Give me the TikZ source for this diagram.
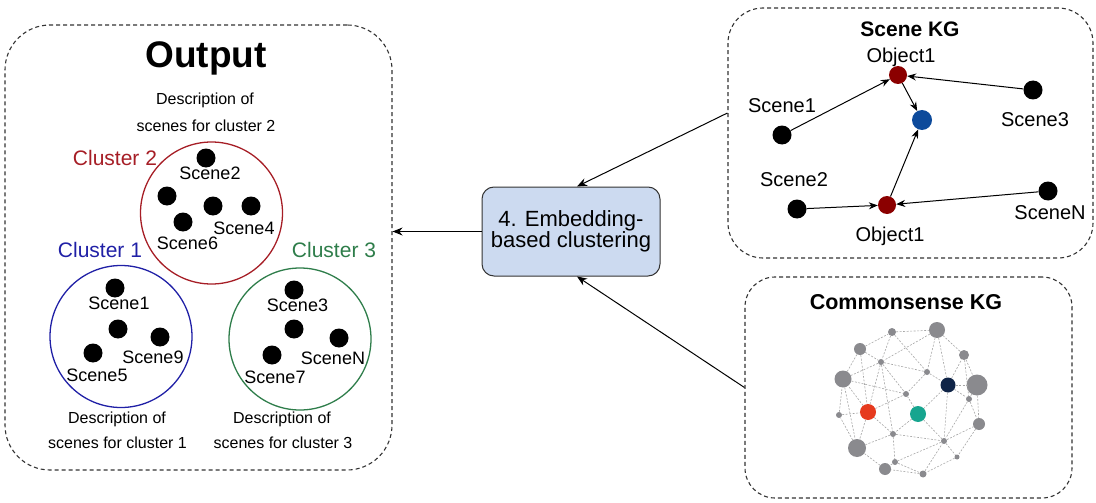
\documentclass[tikz,border=0pt]{standalone}
\usepackage{fontspec}
\setmainfont{Liberation Sans}
\usetikzlibrary{arrows.meta}
\definecolor{cred}{HTML}{A61E26}
\definecolor{cblue}{HTML}{2020A6}
\definecolor{cgreen}{HTML}{2E7D4A}
\definecolor{objred}{HTML}{8B0000}
\definecolor{objblue}{HTML}{0D4A9B}
\definecolor{boxfill}{HTML}{CCDAF0}
\definecolor{netgray}{HTML}{8A8A8E}
\definecolor{netnavy}{HTML}{0F2447}
\definecolor{netred}{HTML}{E63A1E}
\definecolor{netteal}{HTML}{17A58F}
\begin{document}
\begin{tikzpicture}[x=1pt,y=-1pt,
  dbox/.style={draw=black!80, dash pattern=on 4pt off 3pt, line width=1.1pt, inner sep=0, rectangle},
  dot/.style={circle, fill=black, inner sep=0, minimum size=19pt},
  lbl/.style={font=\fontsize{18}{20}\selectfont, inner sep=0},
  klbl/.style={font=\fontsize{20}{22}\selectfont, inner sep=0},
  desc/.style={font=\fontsize{16}{18}\selectfont, inner sep=0, align=center},
  clus/.style={font=\fontsize{21}{24}\selectfont, inner sep=0},
  ring/.style={circle, draw, line width=1.3pt, minimum size=142pt, inner sep=0},
  arr/.style={-{Stealth[length=10pt,width=8pt]}, line width=1pt},
  karr/.style={-{Stealth[length=9pt,width=7pt]}, line width=1pt},
  obj/.style={circle, fill=objred, inner sep=0, minimum size=18pt},
  nn/.style={circle, fill=netgray, inner sep=0},
  ne/.style={draw=gray!70, line width=0.6pt, dash pattern=on 2pt off 1.5pt}
]
\useasboundingbox (0,0) rectangle (1096,503);

% ---------- Output box ----------
\node[dbox, rounded corners=45pt, minimum width=387pt, minimum height=445pt] (out) at (198.5,247.5) {};
\node[font=\bfseries\fontsize{37}{40}\selectfont, inner sep=0] (outt) at (206,58) {Output};
\node[desc] (d2a) at (205,100) {Description of};
\node[desc] (d2b) at (206,126) {scenes for cluster 2};

% Cluster 2
\node[ring, draw=cred] (c2) at (211.5,213) {};
\node[clus, text=cred] (c2l) at (115,158) {Cluster 2};
\node[dot] (s2) at (206,158) {};
\node[lbl] (s2l) at (210,173) {Scene2};
\node[dot] (c2b) at (167,196) {};
\node[dot] (c2c) at (213,206) {};
\node[dot] (s4) at (251,206) {};
\node[dot] (s6) at (183,222) {};
\node[lbl] (s4l) at (244,228) {Scene4};
\node[lbl] (s6l) at (187.5,243) {Scene6};

% Cluster 1
\node[ring, draw=cblue] (c1) at (121,336.5) {};
\node[clus, text=cblue] (c1l) at (100,250) {Cluster 1};
\node[dot] (s1) at (115,288) {};
\node[lbl] (s1l) at (119,303) {Scene1};
\node[dot] (c1b) at (118,329) {};
\node[dot] (s9) at (160,337) {};
\node[dot] (s5) at (93,353) {};
\node[lbl] (s9l) at (153,357) {Scene9};
\node[lbl] (s5l) at (97,375) {Scene5};
\node[desc] (d1a) at (117,419) {Description of};
\node[desc] (d1b) at (117.5,443) {scenes for cluster 1};

% Cluster 3
\node[ring, draw=cgreen] (c3) at (300,339) {};
\node[clus, text=cgreen] (c3l) at (334,250) {Cluster 3};
\node[dot] (s3) at (294,290) {};
\node[lbl] (s3l) at (297.5,305) {Scene3};
\node[dot] (c3b) at (294,329) {};
\node[dot] (sN) at (339,338) {};
\node[dot] (s7) at (272,355) {};
\node[lbl] (sNl) at (333,358) {SceneN};
\node[lbl] (s7l) at (275,377) {Scene7};
\node[desc] (d3a) at (282,419) {Description of};
\node[desc] (d3b) at (283,443) {scenes for cluster 3};

% ---------- Embedding box ----------
\node[draw=black!80, fill=boxfill, line width=1pt, rounded corners=12pt, minimum width=178pt, minimum height=89pt, inner sep=0, align=center, font=\fontsize{22}{22}\selectfont] (emb) at (571,231.5) {4. Embedding-\\[-1pt]based clustering};

% ---------- Scene KG ----------
\node[dbox, rounded corners=35pt, minimum width=365pt, minimum height=250pt] (skg) at (910.5,133) {};
\node[font=\bfseries\fontsize{21}{24}\selectfont, inner sep=0] (skgt) at (910,29) {Scene KG};
\node[obj] (o1) at (898,75) {};
\node[klbl] (o1l) at (901,57) {Object1};
\node[circle, fill=objblue, inner sep=0, minimum size=20pt] (bl) at (922,120) {};
\node[dot] (k1) at (782,135) {};
\node[klbl] (k1l) at (782,106) {Scene1};
\node[dot] (k3) at (1033,90) {};
\node[klbl] (k3l) at (1035,120) {Scene3};
\node[dot] (k2) at (797,209) {};
\node[klbl] (k2l) at (794,180) {Scene2};
\node[dot] (kN) at (1048,191) {};
\node[klbl] (kNl) at (1050,213) {SceneN};
\node[obj] (o2) at (887,205) {};
\node[klbl] (o2l) at (890,236) {Object1};
\draw[karr] (k1) -- (o1);
\draw[karr] (k3) -- (o1);
\draw[karr] (o1) -- (bl);
\draw[karr] (o2) -- (bl);
\draw[karr] (k2) -- (o2);
\draw[karr] (kN) -- (o2);

% ---------- Commonsense KG ----------
\node[dbox, rounded corners=30pt, minimum width=327pt, minimum height=221pt] (ckg) at (908.5,387.5) {};
\node[font=\bfseries\fontsize{21.5}{24}\selectfont, inner sep=0] (ckgt) at (906,302) {Commonsense KG};

\node[nn, minimum size=8pt] (n1) at (892,332) {};
\node[nn, minimum size=16pt] (n2) at (937,330) {};
\node[nn, minimum size=12pt] (n3) at (860,349) {};
\node[nn, minimum size=10pt] (n4) at (964,355) {};
\node[nn, minimum size=6pt] (n5) at (881,362) {};
\node[nn, minimum size=17pt] (n6) at (843,379) {};
\node[nn, minimum size=6pt] (n7) at (927,372) {};
\node[circle, fill=netnavy, inner sep=0, minimum size=15pt] (n8) at (948,385) {};
\node[nn, minimum size=21pt] (n9) at (977,385) {};
\node[nn, minimum size=6pt] (n10) at (906,394) {};
\node[nn, minimum size=6pt] (n11) at (969,399) {};
\node[circle, fill=netred, inner sep=0, minimum size=16pt] (n12) at (868,412) {};
\node[circle, fill=netteal, inner sep=0, minimum size=16pt] (n13) at (918,414) {};
\node[nn, minimum size=6pt] (n14) at (839,415) {};
\node[nn, minimum size=12pt] (n15) at (979,424) {};
\node[nn, minimum size=6pt] (n16) at (893,434) {};
\node[nn, minimum size=6pt] (n17) at (944,441) {};
\node[nn, minimum size=18pt] (n18) at (857,448) {};
\node[nn, minimum size=5pt] (n19) at (957,457) {};
\node[nn, minimum size=6pt] (n20) at (895,462) {};
\node[nn, minimum size=12pt] (n21) at (885,469) {};
\node[nn, minimum size=7pt] (n22) at (923,474) {};

\begin{scope}[on background layer/.style={}]
\foreach \a/\b in {n1/n2,n2/n4,n4/n9,n9/n15,n15/n19,n19/n22,n22/n21,n21/n18,n18/n14,n14/n6,n6/n3,n3/n1,
  n1/n5,n3/n5,n5/n6,n5/n12,n5/n10,n5/n16,n1/n7,n2/n7,n2/n8,n7/n8,n7/n10,n5/n7,n8/n4,n8/n9,n8/n11,
  n8/n13,n8/n17,n11/n15,n11/n17,n13/n10,n13/n16,n13/n17,n12/n10,n12/n16,n12/n6,n12/n18,n16/n18,
  n16/n20,n16/n17,n17/n19,n17/n20,n17/n15,n20/n21,n20/n22,n6/n10,n9/n11,n3/n12,n4/n11,n14/n12,n2/n5,n6/n18,n22/n17}
  \draw[ne] (\a) -- (\b);
\end{scope}

% ---------- Connectors ----------
\draw[arr] (emb.west) -- (emb.west -| out.east);
\draw[arr] ([yshift=20pt]skg.west) -- ([xshift=6pt]emb.north);
\draw[arr] (ckg.west) -- ([xshift=6pt]emb.south);
\end{tikzpicture}
\end{document}
